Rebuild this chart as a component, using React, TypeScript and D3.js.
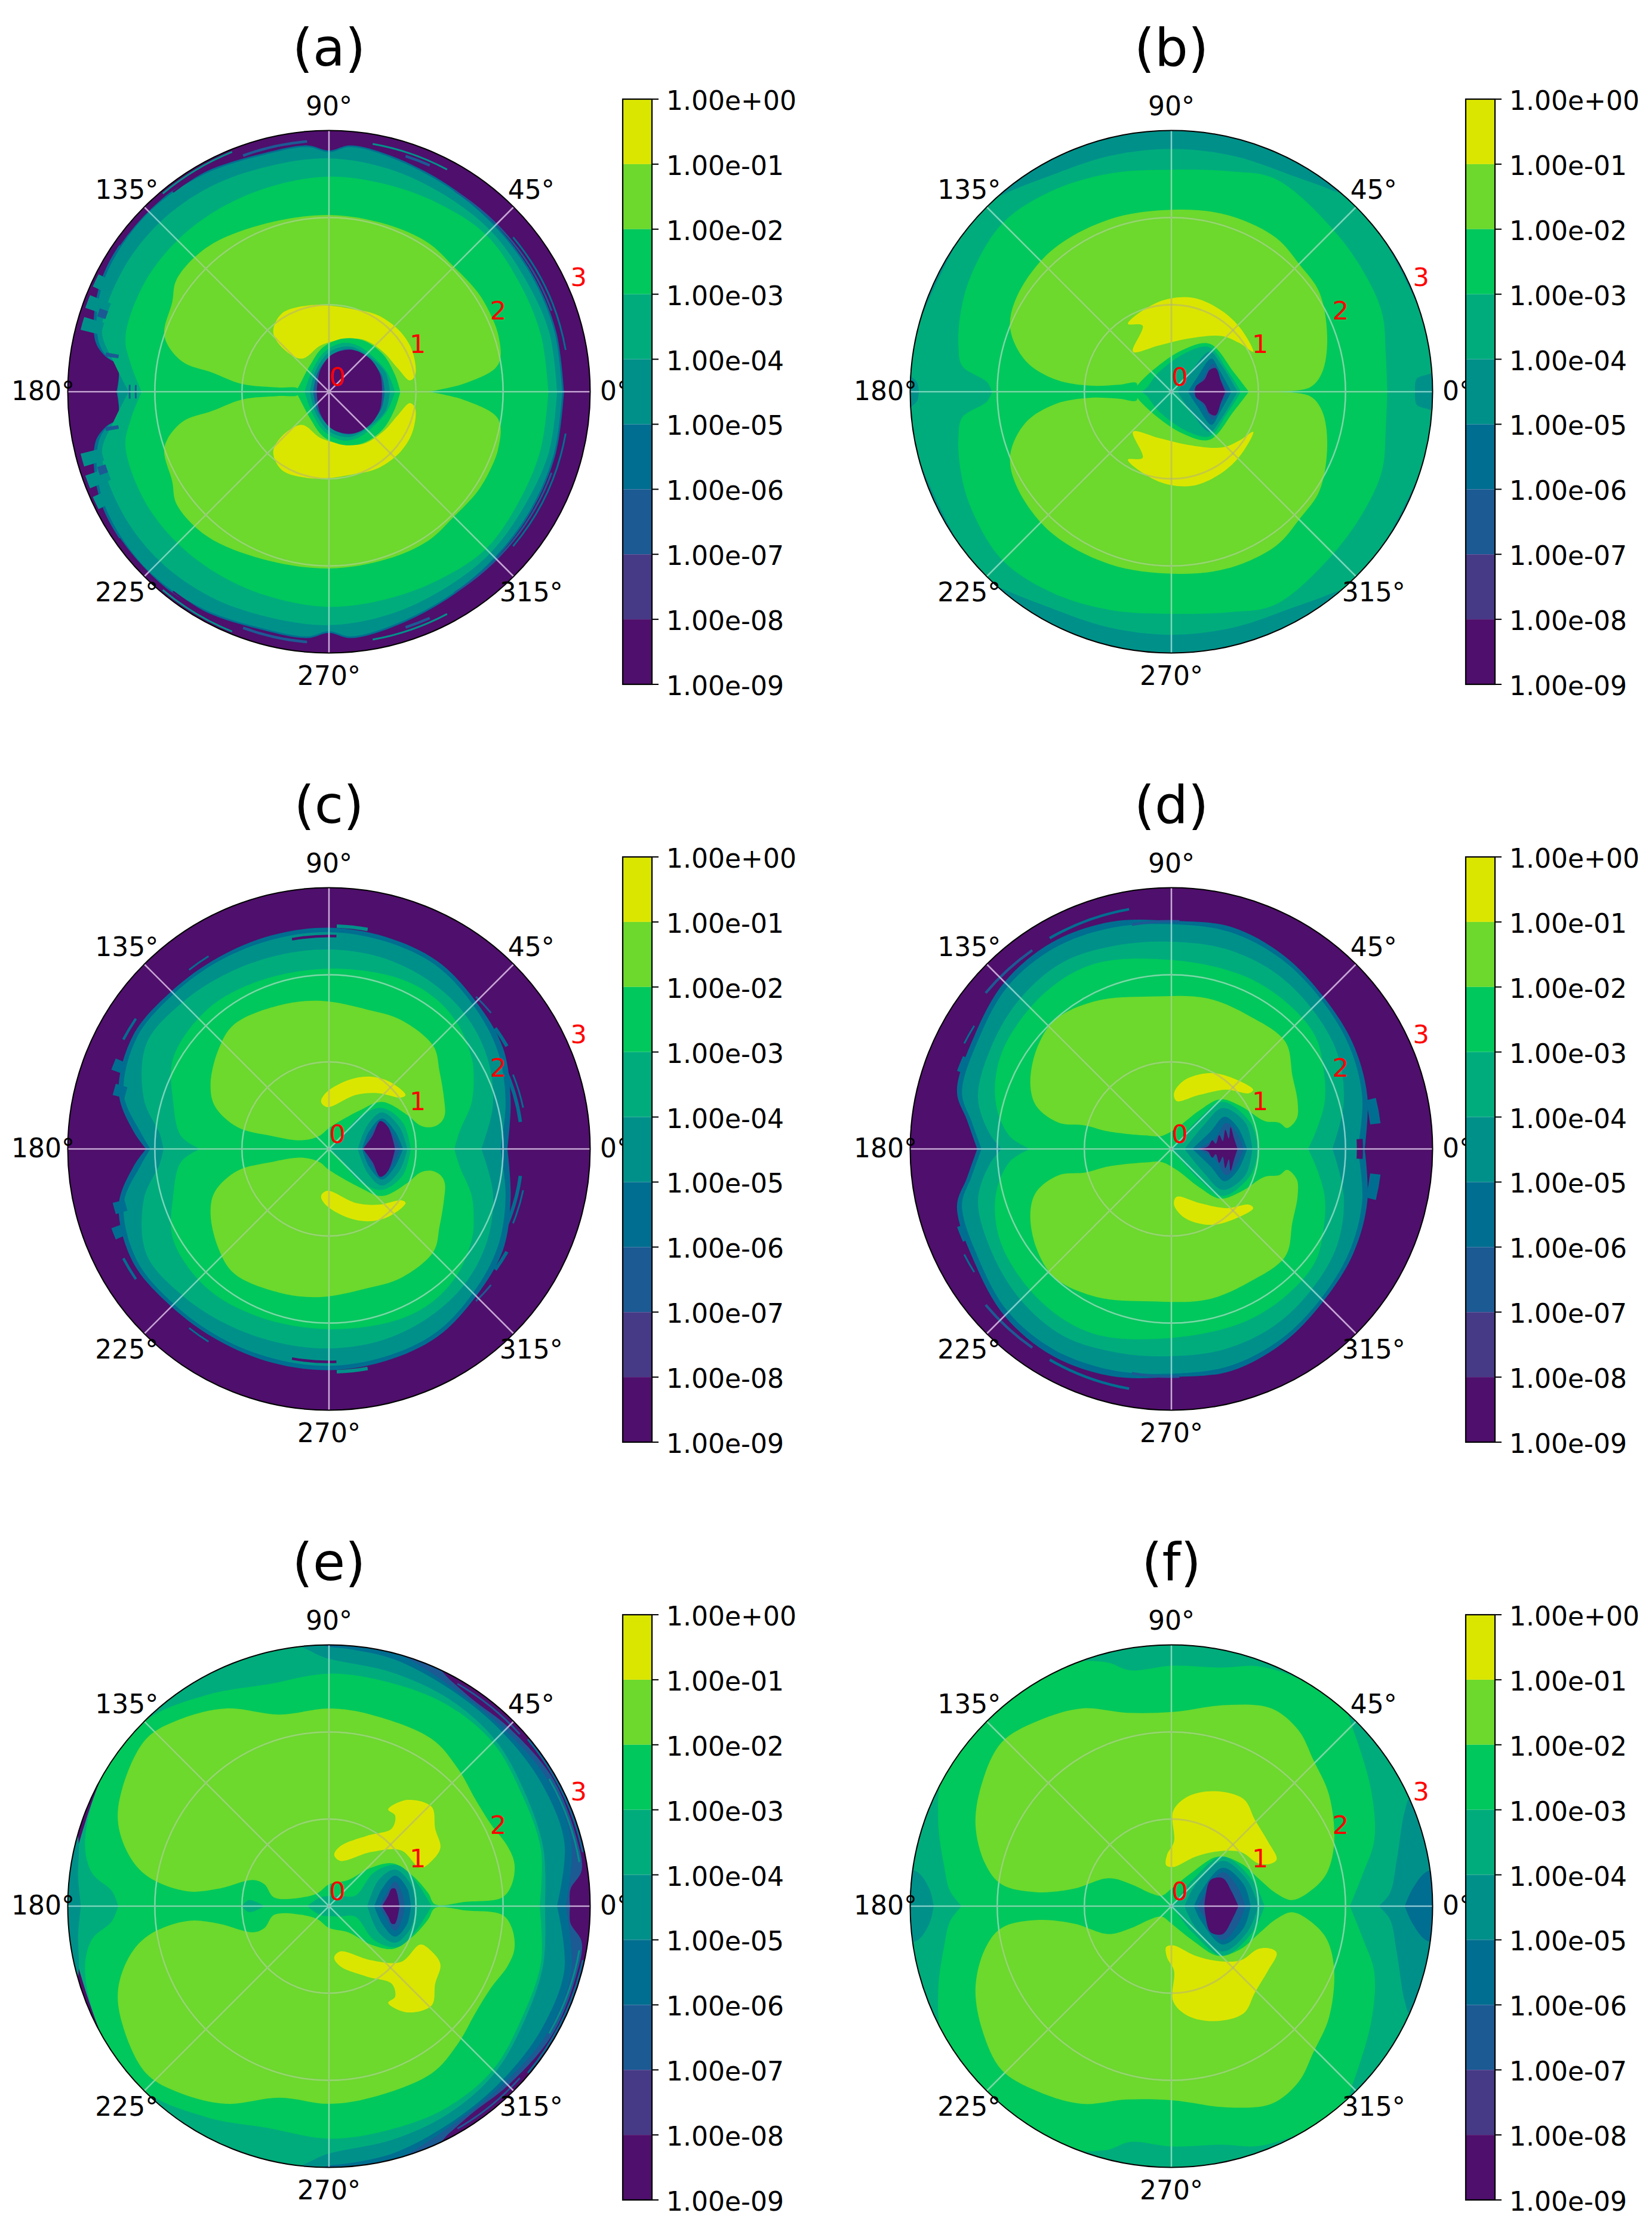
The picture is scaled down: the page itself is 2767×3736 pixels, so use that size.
import * as d3 from 'd3'

type Pair = [number, number]
// ring = [theta deg, r] for the upper half, half = [x, y] closed across the 0/180 axis, blob = [x, y] drawn with its mirror image
type Layer = { level: number; kind: 'ring' | 'half' | 'blob'; pts: Pair[] }
// mark = [level, theta0, theta1, r0, r1], thin streaks and teeth of the noisy contours
type Mark = [number, number, number, number, number]

const levelColors = ['#4f0f6c', '#463a86', '#1c5a94', '#006e90', '#00908a', '#00ac7c', '#00c85c', '#6cd92c', '#dbe600']
const barTicks = [1, 1e-1, 1e-2, 1e-3, 1e-4, 1e-5, 1e-6, 1e-7, 1e-8, 1e-9]
const barLabels = ['1.00e+00', '1.00e-01', '1.00e-02', '1.00e-03', '1.00e-04', '1.00e-05', '1.00e-06', '1.00e-07', '1.00e-08', '1.00e-09']
const angleTicks = [0, 45, 90, 135, 180, 225, 270, 315]
const radialTicks = [0, 1, 2, 3]

// ---- panel (a)
const aRing3: Pair[] = [[0,2.7],[15,2.7],[30,2.7],[45,2.71],[60,2.74],[75,2.8],[85,2.84],[90,2.77],[95,2.84],[105,2.84],[120,2.9],[135,2.94],[150,2.93],[160,2.86],[168,2.74],[171,2.6],[173,2.44],[180,2.44]]
const aRing4: Pair[] = [[0,2.68],[15,2.68],[30,2.68],[45,2.69],[60,2.72],[75,2.78],[85,2.82],[90,2.75],[95,2.82],[105,2.82],[120,2.88],[135,2.92],[150,2.9],[160,2.83],[168,2.7],[171,2.58],[173,2.44],[180,2.43]]
const aRing5: Pair[] = [[0,2.62],[15,2.62],[30,2.6],[45,2.62],[60,2.62],[75,2.65],[90,2.68],[105,2.68],[120,2.72],[135,2.75],[150,2.75],[165,2.7],[172,2.5],[180,2.3]]
const aRing6: Pair[] = [[0,2.52],[15,2.52],[30,2.52],[45,2.55],[60,2.5],[75,2.47],[90,2.47],[105,2.45],[120,2.45],[135,2.46],[150,2.46],[165,2.42],[172,2.3],[180,2.15]]
const aLight: Pair[] = [[1.15,0],[1.54,.09],[1.91,.27],[1.97,.4],[1.94,.67],[1.86,.88],[1.71,1.14],[1.42,1.45],[1.14,1.71],[.67,1.92],[0,2.03],[-.77,1.92],[-1.4,1.66],[-1.75,1.29],[-1.8,1.03],[-1.89,.64],[-1.69,.35],[-1.34,.22],[-1,.09],[-.59,.05],[-.36,.04],[-.36,0]]
const aYellow: Pair[] = [[.99,.19],[.96,.46],[.82,.69],[.56,.88],[.27,.95],[0,.99],[-.25,.99],[-.54,.9],[-.64,.69],[-.54,.51],[-.31,.38],[-.1,.53],[.1,.59],[.39,.6],[.62,.46],[.79,.27],[.93,.13]]
const aHole6: Pair[] = [[.82,0],[.76,.19],[.62,.43],[.39,.59],[.16,.61],[-.07,.51],[-.22,.3],[-.36,.04],[-.39,0]]
const aHole5: Pair[] = [[.76,0],[.67,.22],[.53,.38],[.33,.53],[.16,.56],[-.05,.46],[-.19,.25],[-.28,0]]
const aHole4: Pair[] = [[.7,0],[.65,.22],[.47,.4],[.24,.52],[.01,.46],[-.15,.25],[-.22,0]]
const aHole2: Pair[] = [[.64,0],[.6,.2],[.44,.38],[.24,.49],[.03,.42],[-.13,.22],[-.18,0]]
const aHole0: Pair[] = [[.61,0],[.59,.19],[.47,.38],[.27,.48],[.04,.43],[-.1,.25],[-.14,0]]
const aMarks: Mark[] = [[2,20,58,2.71,2.73],[3,10,40,2.75,2.77],[4,62,80,2.88,2.9],[2,95,110,2.87,2.9],[4,112,130,2.96,2.98],[2,66,72,2.83,2.86],[0,116,128,2.9,2.92],[0,100,108,2.85,2.87],[0,72,80,2.83,2.85],[0,130,145,2.93,2.95],[4,163,166,2.7,2.94],[4,158,161,2.7,2.96],[4,153,156,2.85,2.97],[2,160,162,2.7,2.8],[2,170,171,2.45,2.6],[2,178,180,2.28,2.3],[2,178,180,2.21,2.23]]

// ---- panel (b)
const bRing5: Pair[] = [[0,2.8],[3,2.82],[5,3.05],[45,3.05],[52,2.95],[60,2.85],[75,2.8],[90,2.79],[105,2.8],[120,2.85],[130,2.97],[136,3.05],[175,3.05],[178,2.92],[180,2.9]]
const bRing6: Pair[] = [[0,2.48],[10,2.5],[20,2.58],[30,2.6],[45,2.63],[64,2.72],[75,2.62],[90,2.55],[105,2.6],[120,2.68],[135,2.74],[150,2.66],[160,2.58],[168,2.5],[173,2.42],[177,2.12],[180,2.06]]
const bLight: Pair[] = [[1.14,0],[1.59,.05],[1.73,.22],[1.79,.61],[1.7,1.14],[1.48,1.45],[1.2,1.77],[.64,2.03],[.02,2.09],[-.71,1.98],[-1.39,1.61],[-1.78,1.08],[-1.85,.72],[-1.67,.35],[-1.33,.14],[-.94,.07],[-.6,.08],[-.4,.1],[-.4,0]]
const bYellow: Pair[] = [[.94,.46],[.8,.72],[.58,.93],[.24,1.08],[-.15,1.03],[-.5,.78],[-.33,.76],[-.44,.46],[-.15,.53],[.19,.61],[.58,.64],[.78,.56]]
const bHole6: Pair[] = [[.89,0],[.72,.22],[.44,.55],[.13,.48],[-.21,.25],[-.4,.06],[-.43,0]]
const bHole5: Pair[] = [[.8,0],[.64,.25],[.44,.51],[.19,.46],[-.15,.22],[-.29,.04],[-.35,0]]
const bHole4: Pair[] = [[.76,0],[.58,.3],[.44,.46],[.24,.25],[.07,0]]
const bHole3: Pair[] = [[.69,0],[.55,.25],[.46,.38],[.3,.17],[.19,0]]
const bHole2: Pair[] = [[.65,0],[.55,.17],[.48,.32],[.35,.14],[.24,0]]
const bHole0: Pair[] = [[.62,0],[.57,.12],[.51,.27],[.44,.25],[.38,.14],[.28,.06],[.27,0]]

// ---- panel (c)
const cRing3: Pair[] = [[0,2.05],[15,2.16],[30,2.31],[45,2.39],[60,2.49],[75,2.52],[90,2.54],[105,2.54],[120,2.54],[135,2.56],[150,2.6],[165,2.5],[175,2.25],[180,2.1]]
const cRing4: Pair[] = [[0,1.97],[15,2.1],[30,2.24],[45,2.34],[60,2.44],[75,2.47],[90,2.49],[105,2.49],[120,2.5],[135,2.52],[150,2.55],[165,2.44],[175,2.17],[180,2.05]]
const cRing5: Pair[] = [[0,1.75],[15,1.95],[30,2.1],[45,2.2],[60,2.25],[75,2.28],[90,2.29],[105,2.3],[120,2.33],[135,2.38],[150,2.42],[165,2.2],[175,1.95],[180,1.9]]
const cGreen: Pair[] = [[1.44,0],[1.5,.2],[1.64,.54],[1.66,.9],[1.64,1.04],[1.5,1.4],[1.22,1.73],[.8,1.96],[0,2.07],[-.8,1.93],[-1.4,1.6],[-1.79,1.04],[-1.79,.55],[-1.7,.15],[-1.48,0]]
const cLight: Pair[] = [[1.18,.25],[1.28,.3],[1.33,.39],[1.32,.59],[1.27,.89],[1.2,1.18],[.83,1.48],[.44,1.6],[-.09,1.7],[-.57,1.65],[-1.09,1.43],[-1.27,1.14],[-1.36,.74],[-1.31,.49],[-1.05,.25],[-.66,.15],[-.31,.1],[-.11,.15],[0,.24],[.35,.44],[.61,.54],[.9,.39],[1.05,.27]]
const cYellow: Pair[] = [[-.09,.54],[-.04,.64],[.22,.79],[.48,.83],[.7,.77],[.88,.62],[.83,.59],[.57,.64],[.31,.62],[-.02,.48]]
const cHole5: Pair[] = [[.94,0],[.85,.3],[.61,.47],[.35,.37],[.13,.12],[0,0]]
const cHole4: Pair[] = [[.9,0],[.81,.25],[.61,.42],[.44,.27],[.33,0]]
const cHole3: Pair[] = [[.85,0],[.76,.2],[.61,.35],[.46,.2],[.38,0]]
const cHole2: Pair[] = [[.82,0],[.74,.16],[.61,.31],[.47,.15],[.4,0]]
const cHole0: Pair[] = [[.76,0],[.68,.25],[.59,.32],[.5,.15],[.39,0]]
const cMarks: Mark[] = [[3,8,25,2.2,2.24],[3,12,22,2.27,2.29],[3,30,36,2.34,2.38],[2,40,46,2.42,2.44],[3,122,128,2.6,2.62],[3,146,152,2.66,2.69],[0,88,100,2.43,2.46],[3,157,160,2.55,2.66],[3,163,166,2.42,2.56],[4,80,88,2.54,2.58]]

// ---- panel (d)
const dRing3: Pair[] = [[0,2.22],[15,2.33],[30,2.41],[45,2.47],[60,2.57],[75,2.64],[90,2.62],[105,2.7],[120,2.74],[135,2.71],[150,2.61],[165,2.55],[172,2.37],[180,2.23]]
const dRing4: Pair[] = [[0,2.14],[15,2.27],[30,2.36],[45,2.43],[60,2.52],[75,2.58],[90,2.58],[105,2.63],[120,2.67],[135,2.65],[150,2.55],[165,2.49],[172,2.32],[180,2.18]]
const dRing5: Pair[] = [[0,1.85],[15,2.05],[30,2.2],[45,2.28],[60,2.35],[75,2.38],[90,2.38],[105,2.42],[120,2.48],[135,2.45],[150,2.38],[165,2.3],[175,2.1],[180,1.95]]
const dGreen: Pair[] = [[1.57,0],[1.66,.2],[1.76,.54],[1.75,.9],[1.65,1.3],[1.3,1.7],[.8,2],[0,2.17],[-.9,2.12],[-1.5,1.75],[-1.95,1.1],[-2.02,.55],[-1.86,.15],[-1.62,0]]
const dLight: Pair[] = [[1.24,.3],[1.33,.24],[1.44,.35],[1.45,.54],[1.39,.84],[1.31,1.23],[.89,1.53],[.41,1.73],[-.24,1.75],[-.86,1.7],[-1.34,1.48],[-1.55,1.14],[-1.62,.74],[-1.55,.49],[-1.29,.3],[-.99,.27],[-.72,.2],[-.24,.15],[-.11,.15],[.06,.24],[.32,.44],[.56,.57],[.8,.49],[1.07,.32]]
const dYellow: Pair[] = [[.03,.64],[.15,.79],[.41,.87],[.63,.84],[.94,.68],[.89,.64],[.63,.68],[.32,.62],[.06,.55]]
const dHole5: Pair[] = [[1,0],[.91,.3],[.59,.54],[.32,.35],[0,0]]
const dHole4: Pair[] = [[.93,0],[.85,.3],[.59,.47],[.37,.27],[.15,0]]
const dHole3: Pair[] = [[.87,0],[.76,.25],[.61,.37],[.45,.2],[.24,0]]
const dHole2: Pair[] = [[.83,0],[.74,.2],[.63,.3],[.5,.12],[.3,0]]
const dHole0: Pair[] = [[.76,0],[.72,.12],[.68,.25],[.66,.12],[.62,.22],[.59,.09],[.55,.16],[.51,.06],[.47,.1],[.42,.03],[.3,0]]
const dMarks: Mark[] = [[3,7,14,2.3,2.42],[0,0,3,2.13,2.2],[3,100,120,2.78,2.81],[2,125,140,2.77,2.8],[3,148,153,2.66,2.68],[2,88,100,2.6,2.63],[3,156,160,2.55,2.62]]

// ---- panel (e)
const eRing2: Pair[] = [[0,2.77],[4,2.78],[8,2.93],[15,2.95],[30,2.96],[45,2.91],[55,2.89],[62,2.95],[68,3.05],[90,3.05],[130,3.05],[180,3.05]]
const eRing3: Pair[] = [[0,2.72],[15,2.88],[30,2.9],[45,2.86],[60,2.88],[72,2.98],[80,3.05],[130,3.05],[180,3.05]]
const eRing4: Pair[] = [[0,2.62],[15,2.8],[30,2.82],[45,2.82],[60,2.85],[75,2.93],[85,2.96],[90,2.98],[95,3.05],[130,3.05],[180,3.05]]
const eRing5: Pair[] = [[0,2.48],[15,2.55],[30,2.6],[45,2.7],[60,2.75],[75,2.78],[90,2.84],[100,3.05],[140,3.05],[180,3.05]]
const eRing6: Pair[] = [[0,2.42],[15,2.52],[30,2.56],[45,2.66],[60,2.68],[75,2.66],[90,2.67],[105,2.64],[120,2.8],[135,3],[150,3],[165,2.9],[172,2.75],[176,2.5],[180,2.42]]
const eLeftBand: Pair[] = [[-2.85,0],[-2.88,.3],[-2.92,.9],[-3.2,.9],[-3.2,0]]
const eLight: Pair[] = [[1.22,.02],[1.57,.05],[1.99,.1],[2.1,.25],[2.13,.49],[2.05,.69],[1.86,.94],[1.68,1.23],[1.48,1.58],[1.18,1.92],[.48,2.2],[0,2.27],[-.57,2.2],[-1.18,2.27],[-1.7,2.15],[-2.1,1.92],[-2.38,1.33],[-2.42,.94],[-2.27,.54],[-2.05,.32],[-1.62,.17],[-1.27,.2],[-.87,.3],[-.74,.25],[-.63,.1],[-.31,.1],[-.13,.15],[0,.25],[.22,.3],[.48,.44],[.74,.49],[.96,.35],[1.14,.15]]
const eYellow: Pair[] = [[.06,.59],[.13,.69],[.44,.81],[.72,.89],[.76,1.04],[.68,1.11],[.9,1.22],[1.18,1.14],[1.22,.89],[1.28,.67],[1.18,.52],[1.05,.44],[.83,.64],[.48,.62],[.13,.52]]
const eSpine5: Pair[] = [[-.74,0],[-.92,.07],[-1,0]]
const eHole5: Pair[] = [[1.18,0],[1,.28],[.79,.47],[.52,.39],[.3,.12],[.1,.12],[-.1,.1],[-.25,0]]
const eHole4: Pair[] = [[1,0],[.94,.25],[.76,.42],[.57,.3],[.44,0]]
const eHole3: Pair[] = [[.94,0],[.9,.2],[.76,.35],[.61,.2],[.52,0]]
const eHole2: Pair[] = [[.87,0],[.84,.15],[.76,.28],[.66,.15],[.58,0]]
const eHole0: Pair[] = [[.81,0],[.76,.2],[.72,.2],[.68,.12],[.61,0]]
const eMarks: Mark[] = [[3,12,40,2.97,2.99],[2,42,60,2.94,2.96],[4,10,30,2.91,2.93]]

// ---- panel (f)
const fRing6: Pair[] = [[0,2.05],[10,2.24],[18,2.45],[30,2.65],[45,2.93],[50,3.05],[60,3],[70,2.93],[78,2.8],[90,2.76],[100,2.75],[105,2.9],[115,3.05],[135,3.05],[150,3.03],[160,2.85],[170,2.65],[176,2.55],[180,2.41]]
const fWedge4: Pair[] = [[2.38,0],[2.51,.15],[2.59,.54],[2.68,1.09],[2.75,1.25],[3.2,1.25],[3.2,0]]
const fWedge3: Pair[] = [[2.68,0],[2.77,.2],[2.94,.4],[3.2,.4],[3.2,0]]
const fLeft4: Pair[] = [[-2.73,0],[-2.78,.2],[-2.93,.4],[-3.2,.4],[-3.2,0]]
const fLight: Pair[] = [[1.39,.07],[1.63,.2],[1.79,.39],[1.87,.74],[1.81,1.28],[1.63,1.68],[1.46,2.02],[1.15,2.27],[.63,2.31],[.02,2.23],[-.51,2.22],[-1.03,2.27],[-1.55,2.12],[-1.95,1.88],[-2.17,1.43],[-2.25,.94],[-2.14,.49],[-1.95,.25],[-1.55,.16],[-1.12,.2],[-.72,.32],[-.46,.25],[-.24,.15],[-.11,.12],[0,.2],[.24,.39],[.54,.57],[.8,.49],[1.02,.3],[1.2,.15]]
const fYellow: Pair[] = [[-.06,.47],[-.05,.59],[.03,.74],[.02,1.09],[.19,1.26],[.5,1.32],[.83,1.23],[.96,.99],[1.11,.74],[1.21,.54],[1.15,.49],[1,.49],[.8,.62],[.54,.63],[.28,.57],[.02,.45]]
const fHole5: Pair[] = [[1.07,0],[.93,.3],[.59,.57],[.24,.3],[0,.02],[-.1,0]]
const fHole4: Pair[] = [[1,0],[.87,.3],[.59,.52],[.28,.25],[.15,0]]
const fHole3: Pair[] = [[.91,0],[.83,.25],[.59,.44],[.34,.17],[.26,0]]
const fHole2: Pair[] = [[.85,0],[.76,.22],[.59,.39],[.39,.15],[.3,0]]
const fHole0: Pair[] = [[.77,0],[.69,.17],[.59,.32],[.45,.3],[.39,.1],[.38,0]]

const ring = (level: number, pts: Pair[]): Layer => ({ level, kind: 'ring', pts })
const half = (level: number, pts: Pair[]): Layer => ({ level, kind: 'half', pts })
const blob = (level: number, pts: Pair[]): Layer => ({ level, kind: 'blob', pts })

const panels: { title: string; cx: number; cy: number; barX: number; barY: number; base: number; layers: Layer[]; marks: Mark[] }[] = [
  { title: '(a)', cx: 551, cy: 656, barX: 1043, barY: 166, base: 0, marks: aMarks, layers: [ring(3, aRing3), ring(4, aRing4), ring(5, aRing5), ring(6, aRing6), half(7, aLight), blob(8, aYellow), half(6, aHole6), half(5, aHole5), half(4, aHole4), half(2, aHole2), half(0, aHole0)] },
  { title: '(b)', cx: 1962, cy: 656, barX: 2455, barY: 166, base: 4, marks: [], layers: [ring(5, bRing5), ring(6, bRing6), half(7, bLight), blob(8, bYellow), half(6, bHole6), half(5, bHole5), half(4, bHole4), half(3, bHole3), half(2, bHole2), half(0, bHole0)] },
  { title: '(c)', cx: 551, cy: 1924, barX: 1043, barY: 1435, base: 0, marks: cMarks, layers: [ring(3, cRing3), ring(4, cRing4), ring(5, cRing5), half(6, cGreen), blob(7, cLight), blob(8, cYellow), half(5, cHole5), half(4, cHole4), half(3, cHole3), half(2, cHole2), half(0, cHole0)] },
  { title: '(d)', cx: 1962, cy: 1924, barX: 2455, barY: 1435, base: 0, marks: dMarks, layers: [ring(3, dRing3), ring(4, dRing4), ring(5, dRing5), half(6, dGreen), blob(7, dLight), blob(8, dYellow), half(5, dHole5), half(4, dHole4), half(3, dHole3), half(2, dHole2), half(0, dHole0)] },
  { title: '(e)', cx: 551, cy: 3192, barX: 1043, barY: 2704, base: 0, marks: eMarks, layers: [ring(2, eRing2), ring(3, eRing3), ring(4, eRing4), ring(5, eRing5), half(4, eLeftBand), ring(6, eRing6), half(5, eSpine5), blob(7, eLight), blob(8, eYellow), half(5, eHole5), half(4, eHole4), half(3, eHole3), half(2, eHole2), half(0, eHole0)] },
  { title: '(f)', cx: 1962, cy: 3192, barX: 2455, barY: 2704, base: 5, marks: [], layers: [half(4, fWedge4), half(3, fWedge3), half(4, fLeft4), ring(6, fRing6), blob(7, fLight), blob(8, fYellow), half(5, fHole5), half(4, fHole4), half(3, fHole3), half(2, fHole2), half(0, fHole0)] },
]

const R = 437.5
const fontFamily = '"DejaVu Sans", sans-serif'
const rScale = d3.scaleLinear().domain([0, 3]).range([0, R])
const barScale = d3.scaleLog().domain([1e-9, 1]).range([980, 0])

const rad = (deg: number) => (deg * Math.PI) / 180
// polar points are [math angle in radians, r]
const fromXY = ([x, y]: Pair): Pair => [Math.atan2(y, x), Math.hypot(x, y)]
const contour = d3
  .lineRadial<Pair>()
  .angle(d => Math.PI / 2 - d[0])
  .radius(d => rScale(d[1]))
  .curve(d3.curveCatmullRomClosed.alpha(0.5))

function layerPaths(layer: Layer): string[] {
  const mirror = (pts: Pair[]): Pair[] => pts.map(([a, r]) => [-a, r] as Pair)
  if (layer.kind === 'blob') {
    const upper = layer.pts.map(fromXY)
    return [contour(upper) as string, contour(mirror(upper)) as string]
  }
  const upper = layer.kind === 'ring'
    ? layer.pts.map(([deg, r]) => [rad(deg), r] as Pair)
    : layer.pts.map(fromXY)
  return [contour([...upper, ...mirror(upper).reverse()]) as string]
}

const arc = d3.arc()
function markPaths([, t0, t1, r0, r1]: Mark): string[] {
  const innerRadius = rScale(r0)
  const outerRadius = rScale(r1)
  return [
    arc({ innerRadius, outerRadius, startAngle: Math.PI / 2 - rad(t1), endAngle: Math.PI / 2 - rad(t0) }) as string,
    arc({ innerRadius, outerRadius, startAngle: Math.PI / 2 + rad(t0), endAngle: Math.PI / 2 + rad(t1) }) as string,
  ]
}

function GridLines() {
  return (
    <>
      {[1, 2].map(v => <circle key={v} r={rScale(v)} />)}
      {angleTicks.map(a => {
        const [x, y] = d3.pointRadial(rad(90 - a), R)
        return <line key={a} x1={0} y1={0} x2={x} y2={y} />
      })}
    </>
  )
}

function Polar({ panel, index }: { panel: (typeof panels)[number]; index: number }) {
  const clipId = `disk-${index}`
  return (
    <g transform={`translate(${panel.cx},${panel.cy})`}>
      <clipPath id={clipId}>
        <circle r={R} />
      </clipPath>
      <g clipPath={`url(#${clipId})`}>
        <circle r={R} fill={levelColors[panel.base]} />
        {panel.layers.map((layer, i) =>
          layerPaths(layer).map((d, j) => <path key={`${i}-${j}`} d={d} fill={levelColors[layer.level]} />)
        )}
        {panel.marks.map((m, i) =>
          markPaths(m).map((d, j) => <path key={`${i}-${j}`} d={d} fill={levelColors[m[0]]} />)
        )}
        {/* grid: the source's thin lines take the tint of what lies under them */}
        <g fill="none" stroke="#c4c4c4" strokeWidth={2.2} style={{ mixBlendMode: 'luminosity' }}>
          <GridLines />
        </g>
        <g fill="none" stroke="#a8a8a8" strokeOpacity={0.4} strokeWidth={3}>
          <GridLines />
        </g>
      </g>
      <circle r={R} fill="none" stroke="#000" strokeWidth={2} />
      {angleTicks.map(a => {
        const [x, y] = d3.pointRadial(rad(90 - a), R * 1.095)
        const nudge = a > 180 ? -4 : a === 0 || a === 180 ? -2 : 0
        return (
          <text key={a} x={x} y={y + nudge} dy="0.36em" textAnchor="middle" fontSize={44} fontFamily={fontFamily} fill="#000">
            {a}°
          </text>
        )
      })}
      {radialTicks.map(v => {
        const [x, y] = d3.pointRadial(rad(90 - 22.5), rScale(v))
        return (
          <text key={v} x={x + 14} y={y - 25} dy="0.36em" textAnchor="middle" fontSize={43} fontFamily={fontFamily} fill="#ff0000">
            {v}
          </text>
        )
      })}
      <text x={0} y={110 - 656} textAnchor="middle" fontSize={88} fontFamily={fontFamily} fill="#000">
        {panel.title}
      </text>
    </g>
  )
}

function Colorbar({ x, y }: { x: number; y: number }) {
  const bands = barTicks.slice(0, -1).map((t, i) => ({ top: barScale(t), bottom: barScale(barTicks[i + 1]), level: levelColors.length - 1 - i }))
  return (
    <g transform={`translate(${x},${y})`}>
      {bands.map(b => (
        <rect key={b.level} x={0} y={b.top} width={49} height={b.bottom - b.top} fill={levelColors[b.level]} />
      ))}
      <rect x={0} y={0} width={49} height={980} fill="none" stroke="#000" strokeWidth={2.2} />
      {barTicks.map((t, i) => (
        <g key={t} transform={`translate(49,${barScale(t)})`}>
          <line x1={0} x2={11} stroke="#000" strokeWidth={2} />
          <text x={24} dy="0.41em" fontSize={44} fontFamily={fontFamily} fill="#000">
            {barLabels[i]}
          </text>
        </g>
      ))}
    </g>
  )
}

export default function App() {
  return (
    <svg width={2767} height={3736} viewBox="0 0 2767 3736" style={{ position: 'absolute', left: 0, top: 0, background: '#fff' }}>
      {panels.map((p, i) => (
        <g key={p.title}>
          <Polar panel={p} index={i} />
          <Colorbar x={p.barX} y={p.barY} />
        </g>
      ))}
    </svg>
  )
}
